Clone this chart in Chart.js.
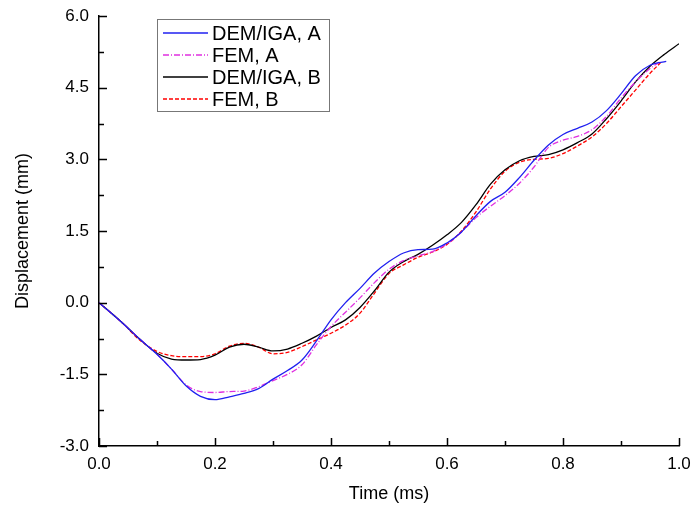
<!DOCTYPE html>
<html>
<head>
<meta charset="utf-8">
<script src="https://cdn.jsdelivr.net/npm/chart.js@4.4.0/dist/chart.umd.min.js"></script>
<style>
html, body { margin: 0; padding: 0; background: #fff; }
#wrap { width: 691px; height: 508px; }
</style>
</head>
<body>
<div id="wrap"><canvas id="chart"></canvas></div>
<script>
// time (ms) and displacement (mm)
const timesDemA = [0, 0.04, 0.07, 0.1, 0.125, 0.15, 0.175, 0.2, 0.225, 0.25, 0.275, 0.3, 0.325, 0.35, 0.375, 0.4, 0.425, 0.45, 0.475, 0.5, 0.525, 0.55, 0.575, 0.6, 0.625, 0.65, 0.675, 0.7, 0.725, 0.75, 0.775, 0.8, 0.825, 0.85, 0.875, 0.9, 0.925, 0.95, 0.978];
const dispDemA = [0, -0.42, -0.76, -1.08, -1.39, -1.74, -1.96, -2.03, -1.97, -1.90, -1.80, -1.60, -1.42, -1.20, -0.80, -0.36, 0.0, 0.30, 0.62, 0.86, 1.04, 1.11, 1.12, 1.25, 1.48, 1.82, 2.12, 2.31, 2.62, 2.98, 3.30, 3.52, 3.65, 3.78, 4.02, 4.37, 4.75, 4.97, 5.05];

const timesFemA = [0, 0.04, 0.07, 0.1, 0.125, 0.15, 0.175, 0.2, 0.225, 0.25, 0.275, 0.3, 0.325, 0.35, 0.375, 0.4, 0.425, 0.45, 0.475, 0.5, 0.525, 0.55, 0.575, 0.6, 0.625, 0.65, 0.675, 0.7, 0.725, 0.75, 0.775, 0.8, 0.825, 0.85, 0.875, 0.9, 0.925, 0.95, 0.968];
const dispFemA = [0, -0.42, -0.76, -1.08, -1.39, -1.72, -1.86, -1.88, -1.86, -1.85, -1.76, -1.63, -1.50, -1.30, -0.88, -0.50, -0.20, 0.10, 0.42, 0.70, 0.88, 0.98, 1.07, 1.23, 1.48, 1.78, 2.02, 2.24, 2.50, 2.84, 3.25, 3.40, 3.48, 3.62, 3.90, 4.28, 4.62, 4.90, 5.05];

const timesDemB = [0, 0.04, 0.07, 0.1, 0.125, 0.15, 0.175, 0.2, 0.225, 0.25, 0.275, 0.3, 0.325, 0.35, 0.375, 0.4, 0.425, 0.45, 0.475, 0.5, 0.525, 0.55, 0.575, 0.6, 0.625, 0.65, 0.675, 0.7, 0.725, 0.75, 0.775, 0.8, 0.825, 0.85, 0.875, 0.9, 0.925, 0.95, 0.975, 1.0];
const dispDemB = [0, -0.42, -0.76, -1.06, -1.18, -1.20, -1.19, -1.10, -0.93, -0.87, -0.93, -1.01, -0.97, -0.85, -0.70, -0.52, -0.36, -0.10, 0.25, 0.64, 0.86, 1.01, 1.20, 1.42, 1.68, 2.05, 2.48, 2.78, 2.97, 3.06, 3.10, 3.20, 3.35, 3.53, 3.85, 4.22, 4.62, 4.95, 5.20, 5.42];

const timesFemB = [0, 0.04, 0.07, 0.1, 0.125, 0.15, 0.175, 0.2, 0.225, 0.25, 0.275, 0.3, 0.325, 0.35, 0.375, 0.4, 0.425, 0.45, 0.475, 0.5, 0.525, 0.55, 0.575, 0.6, 0.625, 0.65, 0.675, 0.7, 0.725, 0.75, 0.775, 0.8, 0.825, 0.85, 0.875, 0.9, 0.925, 0.95, 0.968];
const dispFemB = [0, -0.42, -0.78, -1.02, -1.11, -1.13, -1.13, -1.07, -0.91, -0.85, -0.93, -1.07, -1.04, -0.92, -0.78, -0.64, -0.47, -0.22, 0.20, 0.61, 0.79, 0.95, 1.06, 1.22, 1.50, 1.90, 2.38, 2.75, 2.94, 3.00, 3.02, 3.12, 3.28, 3.47, 3.75, 4.10, 4.45, 4.80, 5.02];

const seriesLabels = ['DEM/IGA, A', 'FEM, A', 'DEM/IGA, B', 'FEM, B'];
const xTickValues = [0, 0.2, 0.4, 0.6, 0.8, 1.0];
const yTickValues = [-3.0, -1.5, 0.0, 1.5, 3.0, 4.5, 6.0];

const FONT = "'Liberation Sans', Arial, sans-serif";

function toPoints(times, vals) {
    return times.map((t, i) => ({ x: t, y: vals[i] }));
}

// inward tick marks, major + minor
const innerTicks = {
    id: 'innerTicks',
    afterDraw(chart) {
        const { ctx, chartArea: a, scales: { x, y } } = chart;
        ctx.save();
        ctx.strokeStyle = '#000';
        ctx.lineWidth = 1.5;
        ctx.beginPath();
        for (let i = 0; i <= 10; i++) {
            const px = Math.round(x.getPixelForValue(i / 10)) + 0.5;
            const len = i % 2 === 0 ? 8 : 5;
            ctx.moveTo(px, a.bottom);
            ctx.lineTo(px, a.bottom - len);
        }
        for (let i = 0; i <= 12; i++) {
            const py = Math.round(y.getPixelForValue(-3 + i * 0.75)) + 0.5;
            const len = i % 2 === 0 ? 8 : 5;
            ctx.moveTo(a.left, py);
            ctx.lineTo(a.left + len, py);
        }
        ctx.stroke();
        ctx.restore();
    }
};

// boxed legend in the top-left corner
const boxLegend = {
    id: 'boxLegend',
    afterDraw(chart) {
        const { ctx, chartArea: a } = chart;
        const x0 = a.left + 58, y0 = a.top + 3, w = 172, h = 92, rowH = 22;
        ctx.save();
        ctx.fillStyle = '#fff';
        ctx.fillRect(x0, y0, w, h);
        ctx.strokeStyle = '#777';
        ctx.lineWidth = 1;
        ctx.strokeRect(x0 + 0.5, y0 + 0.5, w, h);
        ctx.font = '20px ' + FONT;
        ctx.textBaseline = 'middle';
        chart.data.datasets.forEach((ds, i) => {
            const cy = y0 + 14 + i * rowH;
            ctx.strokeStyle = ds.borderColor;
            ctx.lineWidth = ds.borderWidth;
            ctx.setLineDash(ds.borderDash || []);
            ctx.beginPath();
            ctx.moveTo(x0 + 6, cy);
            ctx.lineTo(x0 + 51, cy);
            ctx.stroke();
            ctx.setLineDash([]);
            ctx.fillStyle = '#000';
            ctx.fillText(ds.label, x0 + 55, cy + 1);
        });
        ctx.restore();
    }
};

const ctx = document.getElementById('chart');
new Chart(ctx, {
    type: 'line',
    data: {
        datasets: [
            { label: seriesLabels[0], data: toPoints(timesDemA, dispDemA), borderColor: '#2020f0', borderWidth: 1.3 },
            { label: seriesLabels[1], data: toPoints(timesFemA, dispFemA), borderColor: '#e030e0', borderWidth: 1.3, borderDash: [6, 2, 1, 2] },
            { label: seriesLabels[2], data: toPoints(timesDemB, dispDemB), borderColor: '#000000', borderWidth: 1.3 },
            { label: seriesLabels[3], data: toPoints(timesFemB, dispFemB), borderColor: '#ff0000', borderWidth: 1.3, borderDash: [4, 2] }
        ]
    },
    options: {
        responsive: true,
        maintainAspectRatio: false,
        animation: false,
        layout: { padding: { left: 0, right: 12, top: 16, bottom: 0 } },
        elements: {
            point: { radius: 0 },
            line: { cubicInterpolationMode: 'monotone', fill: false }
        },
        plugins: {
            legend: { display: false },
            tooltip: { enabled: false }
        },
        scales: {
            x: {
                type: 'linear',
                min: 0,
                max: 1,
                afterBuildTicks: s => { s.ticks = xTickValues.map(v => ({ value: v })); },
                afterFit: s => { s.height = 62; s.paddingLeft = 0; s.paddingRight = 0; },
                ticks: {
                    color: '#000',
                    font: { family: FONT, size: 17 },
                    padding: 8,
                    maxRotation: 0,
                    callback: v => v.toFixed(1)
                },
                grid: { display: false, drawTicks: false },
                border: { display: true, color: '#000', width: 1.5 },
                title: { display: true, text: 'Time (ms)', color: '#000', font: { family: FONT, size: 18 }, padding: { top: 0, bottom: 3 } }
            },
            y: {
                type: 'linear',
                min: -3,
                max: 6,
                afterBuildTicks: s => { s.ticks = yTickValues.map(v => ({ value: v })); },
                afterFit: s => { s.width = 99; s.paddingTop = 0; s.paddingBottom = 0; },
                ticks: {
                    color: '#000',
                    font: { family: FONT, size: 17 },
                    padding: 10,
                    callback: v => v.toFixed(1)
                },
                grid: { display: false, drawTicks: false },
                border: { display: true, color: '#000', width: 1.5 },
                title: { display: true, text: 'Displacement (mm)', color: '#000', font: { family: FONT, size: 18 }, padding: { top: 12, bottom: 0 } }
            }
        }
    },
    plugins: [innerTicks, boxLegend]
});
</script>
</body>
</html>
